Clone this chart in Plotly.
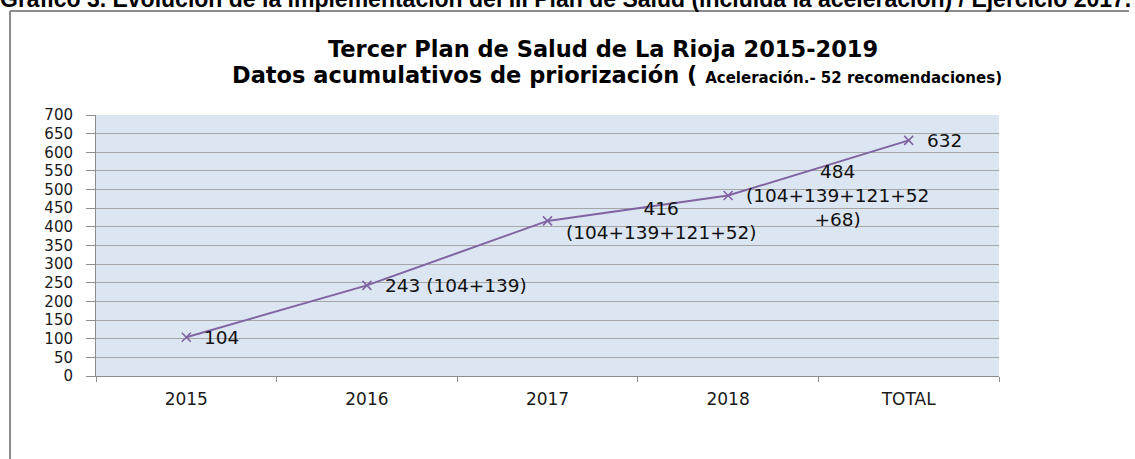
import plotly.graph_objects as go

categories = ["2015", "2016", "2017", "2018", "TOTAL"]
values = [104, 243, 416, 484, 632]
point_labels = [
    "104",
    "243 (104+139)",
    "416<br>(104+139+121+52)",
    "484<br>(104+139+121+52<br>+68)",
    "632",
]
y_ticks = [0, 50, 100, 150, 200, 250, 300, 350, 400, 450, 500, 550, 600, 650, 700]

W, H = 1135, 459
ML, MR, MT, MB = 96, 136, 115, 83
PW, PH = W - ML - MR, H - MT - MB


def px_x(p):
    return (p - ML) / PW


def px_y(p):
    return 1 - (p - MT) / PH


LINE_COLOR = "#8064A2"
LABEL_FONT = "DejaVu Sans"

fig = go.Figure()
fig.add_trace(go.Scatter(
    x=categories, y=values, mode="lines+markers",
    line=dict(color=LINE_COLOR, width=2),
    marker=dict(symbol="x-thin", size=9, line=dict(color=LINE_COLOR, width=1.6), color=LINE_COLOR),
    showlegend=False, hoverinfo="skip",
))

annotations = []
for i, (v, t) in enumerate(zip(values, point_labels)):
    annotations.append(dict(
        x=i, y=v, xref="x", yref="y", text=t, showarrow=False,
        xanchor="left", yanchor="middle", xshift=16, align="center",
        font=dict(family=LABEL_FONT, size=18.5, color="#111111"),
    ))

# page caption, clipped at the top edge as in the source
annotations.append(dict(
    x=px_x(-2), y=px_y(14), xref="paper", yref="paper", xanchor="left", yanchor="bottom",
    text="Gráfico 3. Evolución de la implementación del III Plan de Salud (incluida la aceleración) / Ejercicio 2017.",
    showarrow=False, font=dict(family="Liberation Sans", size=23, color="#000000", weight="bold"),
))
# chart titles
annotations.append(dict(
    x=px_x(603), y=px_y(49), xref="paper", yref="paper", xanchor="center", yanchor="middle",
    text="<b>Tercer Plan de Salud de La Rioja 2015-2019</b>",
    showarrow=False, font=dict(family="DejaVu Sans", size=22.5, color="#000000"),
))
annotations.append(dict(
    x=px_x(617), y=px_y(75), xref="paper", yref="paper", xanchor="center", yanchor="middle",
    text="<b>Datos acumulativos de priorización ( <span style='font-size:15px'>Aceleración.- 52 recomendaciones)</span></b>",
    showarrow=False, font=dict(family="DejaVu Sans", size=22.5, color="#000000"),
))

shapes = [
    dict(type="line", xref="paper", yref="paper", x0=px_x(10), x1=px_x(1129), y0=px_y(11), y1=px_y(11),
         line=dict(color="#8c8c8c", width=2)),
    dict(type="line", xref="paper", yref="paper", x0=px_x(10), x1=px_x(10), y0=px_y(11), y1=px_y(470),
         line=dict(color="#8c8c8c", width=2)),
]

fig.update_layout(
    width=W, height=H,
    margin=dict(l=ML, r=MR, t=MT, b=MB),
    paper_bgcolor="#ffffff",
    plot_bgcolor="#DCE6F2",
    annotations=annotations,
    shapes=shapes,
    xaxis=dict(
        type="category", tickson="boundaries", ticks="outside", ticklen=5, tickcolor="#8c8c8c",
        showline=True, linecolor="#8c8c8c", linewidth=1, showgrid=False,
        tickfont=dict(family=LABEL_FONT, size=17, color="#1a1a1a"),
        ticklabelstandoff=8,
        range=[-0.5, 4.5], fixedrange=True,
    ),
    yaxis=dict(
        range=[0, 700], tickvals=y_ticks, ticks="outside", ticklen=9, tickcolor="#8c8c8c",
        showline=True, linecolor="#8c8c8c", linewidth=1,
        showgrid=True, gridcolor="#A6A6A6", gridwidth=1, zeroline=False,
        tickfont=dict(family=LABEL_FONT, size=15, color="#1a1a1a"),
        ticklabelstandoff=10, fixedrange=True,
    ),
)

fig.write_html("out.html", config={"displayModeBar": False},
               post_script="document.body.style.margin='0px';")
